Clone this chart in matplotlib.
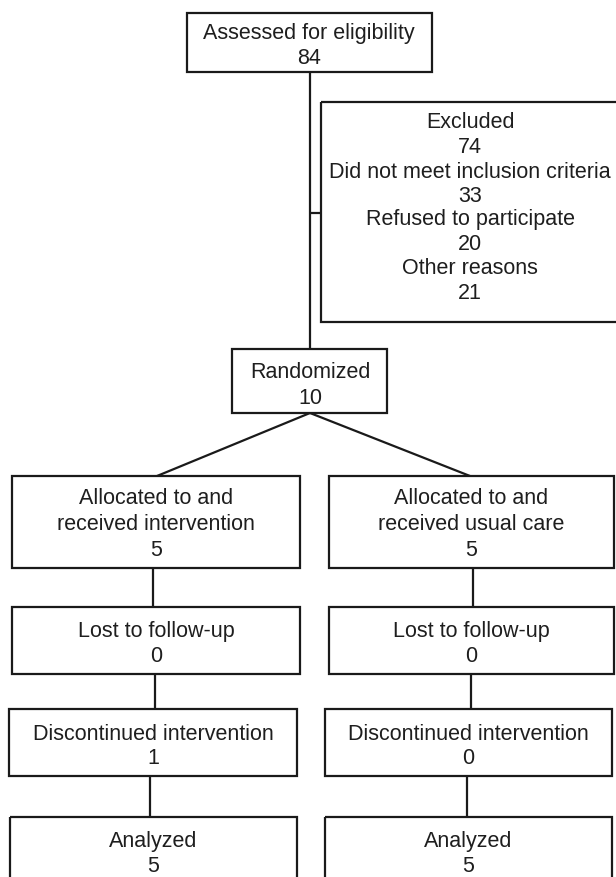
import matplotlib
matplotlib.use("Agg")
import matplotlib.pyplot as plt
from matplotlib.patches import Rectangle

# ---- data ----
assessed_label = "Assessed for eligibility"
assessed_n = 84
excluded_labels = ["Excluded", "Did not meet inclusion criteria", "Refused to participate", "Other reasons"]
excluded_counts = [74, 33, 20, 21]
randomized_label = "Randomized"
randomized_n = 10
arm_stage_labels = [
    ["Allocated to and\nreceived intervention", "Lost to follow-up", "Discontinued intervention", "Analyzed"],
    ["Allocated to and\nreceived usual care", "Lost to follow-up", "Discontinued intervention", "Analyzed"],
]
arm_stage_counts = [
    [5, 0, 1, 5],
    [5, 0, 0, 5],
]

# ---- layout (pixels) ----
W, H = 616, 877
fig = plt.figure(figsize=(W / 100, H / 100), dpi=100)
ax = fig.add_axes([0, 0, 1, 1])
ax.set_xlim(0, W)
ax.set_ylim(H, 0)
ax.axis("off")

LC = "#1a1a1a"
TC = "#1e1e1e"
LW = 1.6
FS = 15.5
FONT = ["Liberation Sans", "DejaVu Sans"]
DY = 2


def box(x0, y0, x1, y1):
    ax.add_patch(Rectangle((x0, y0), x1 - x0, y1 - y0, fill=False, ec=LC, lw=LW, joinstyle="miter"))


def line(xs, ys):
    ax.plot(xs, ys, color=LC, lw=LW, solid_capstyle="butt")


def txt(x, y, s):
    ax.text(x, y + DY, s, ha="center", va="center", fontsize=FS, color=TC, family=FONT)


# top box
box(187, 13, 432, 72)
txt(309, 32, assessed_label)
txt(309, 57, str(assessed_n))

# main vertical
line([310, 310], [72, 349])
line([310, 321], [213, 213])

# excluded box (clipped by right edge)
box(321, 102, 640, 322)
ex_y = [121, 170, 218, 267]
for lab, cnt, y in zip(excluded_labels, excluded_counts, ex_y):
    txt(470, y, lab)
    txt(470, y + 24.5, str(cnt))

# randomized
box(232, 349, 387, 413)
txt(310, 371, randomized_label)
txt(310, 396, str(randomized_n))

# diagonals
line([310, 157], [413, 476])
line([310, 470], [413, 476])

# arm boxes
arm_x = [[(12, 300), (12, 300), (9, 297), (10, 297)],
         [(329, 614), (329, 614), (325, 612), (325, 612)]]
stage_y = [(476, 568), (607, 674), (709, 776), (817, 890)]
conn_x = [[153, 155, 150], [473, 471, 467]]

for a in range(2):
    for s in range(4):
        x0, x1 = arm_x[a][s]
        y0, y1 = stage_y[s]
        box(x0, y0, x1, y1)
        cx = (x0 + x1) / 2
        lab = arm_stage_labels[a][s]
        if s == 0:
            txt(cx, 497, lab.split("\n")[0])
            txt(cx, 523, lab.split("\n")[1])
            txt(cx, 548, str(arm_stage_counts[a][s]))
        else:
            txt(cx, y0 + 23, lab)
            txt(cx, y0 + 48, str(arm_stage_counts[a][s]))
    for s in range(3):
        cx = conn_x[a][s]
        line([cx, cx], [stage_y[s][1], stage_y[s + 1][0]])

fig.savefig("out.png", dpi=100, facecolor="white")
